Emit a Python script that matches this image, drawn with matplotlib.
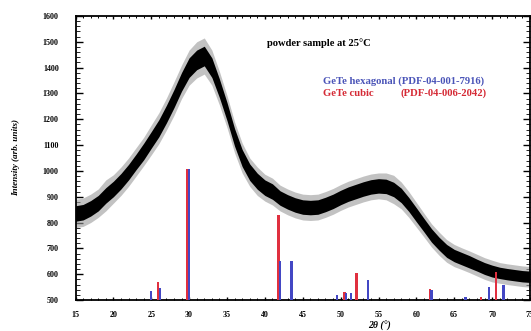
import matplotlib
matplotlib.use("Agg")
import matplotlib.pyplot as plt
from matplotlib.ticker import MultipleLocator

# ---- data ----
two_theta = [15, 16, 17, 18, 19, 20, 21, 22, 23, 24, 25, 26, 27, 28, 29, 30,
             31, 32, 33, 34, 35, 36, 37, 38, 39, 40, 41, 42, 43, 44, 45, 46,
             47, 48, 49, 50, 51, 52, 53, 54, 55, 56, 57, 58, 59, 60, 61, 62,
             63, 64, 65, 66, 67, 68, 69, 70, 71, 72, 73, 74, 75]
intensity = [835, 840, 855, 875, 905, 930, 960, 995, 1035, 1075, 1120, 1165,
             1220, 1280, 1345, 1400, 1430, 1445, 1400, 1320, 1230, 1130, 1050,
             995, 960, 935, 920, 895, 880, 868, 860, 858, 860, 870, 882, 897,
             910, 920, 930, 938, 942, 940, 928, 905, 870, 830, 790, 750, 718,
             690, 672, 660, 648, 635, 622, 612, 605, 600, 596, 592, 590]
noise_core = [30, 30, 30, 30, 30, 30, 30, 30, 30, 32, 32, 33, 34, 35, 36, 38,
              38, 38, 38, 36, 35, 34, 33, 32, 31, 30, 30, 28, 28, 28, 28, 28,
              28, 28, 28, 28, 28, 28, 28, 28, 28, 28, 28, 28, 27, 27, 26, 26,
              25, 25, 24, 24, 24, 23, 23, 23, 22, 22, 22, 22, 22]
noise_spike = [55, 55, 55, 55, 60, 55, 55, 55, 55, 55, 58, 60, 62, 65, 65, 68,
               70, 70, 68, 65, 62, 60, 58, 55, 55, 52, 52, 50, 50, 50, 50, 50,
               50, 50, 50, 50, 50, 50, 50, 50, 50, 52, 55, 52, 50, 48, 46, 45,
               45, 44, 43, 42, 42, 42, 42, 42, 40, 40, 40, 40, 40]

hex_pos = [25.0, 26.2, 30.0, 42.0, 43.5, 49.5, 50.7, 51.4, 53.6, 62.0, 66.5, 69.6, 71.5]
hex_int = [536, 548, 1007, 651, 651, 519, 528, 526, 577, 539, 510, 549, 558]
cub_pos = [25.9, 29.8, 41.8, 50.5, 52.1, 61.8, 68.5, 70.5]
cub_int = [571, 1007, 829, 532, 606, 543, 510, 610]

x_ticks = [15, 20, 25, 30, 35, 40, 45, 50, 55, 60, 65, 70, 75]
y_ticks = [500, 600, 700, 800, 900, 1000, 1100, 1200, 1300, 1400, 1500, 1600]

title_text = "powder sample at 25°C"
hex_label = "GeTe hexagonal (PDF-04-001-7916)"
cub_label = "GeTe cubic"
cub_pdf = "(PDF-04-006-2042)"
ylabel_text = "Intensity (arb. units)"
xlabel_text = "2θ (°)"

BLUE = "#4347c4"
RED = "#e0303f"
TBLUE = "#4a54b8"
TRED = "#d52a35"

plt.rcParams['font.family'] = ['Liberation Serif', 'DejaVu Serif']
plt.rcParams['font.weight'] = 'bold'

fig = plt.figure(figsize=(5.31, 3.31), dpi=100)
ax = fig.add_axes([75.5 / 531, 1 - 300 / 331, (530 - 75.5) / 531, (300 - 16) / 331])

lo_s = [m - s for m, s in zip(intensity, noise_spike)]
hi_s = [m + s for m, s in zip(intensity, noise_spike)]
lo_c = [m - s for m, s in zip(intensity, noise_core)]
hi_c = [m + s for m, s in zip(intensity, noise_core)]
ax.fill_between(two_theta, lo_s, hi_s, color="#9a9a9a", lw=0, alpha=0.6, zorder=2)
ax.fill_between(two_theta, lo_c, hi_c, color="black", lw=0, zorder=3)

base = 500
ax.bar(cub_pos, [v - base for v in cub_int], bottom=base, width=0.3,
       color=RED, zorder=4, align='center')
ax.bar(hex_pos, [v - base for v in hex_int], bottom=base, width=0.3,
       color=BLUE, zorder=4, align='center')

ax.set_xlim(15, 75)
ax.set_ylim(500, 1600)
ax.set_xticks(x_ticks)
ax.set_yticks(y_ticks)
ax.xaxis.set_minor_locator(MultipleLocator(1))
ax.yaxis.set_minor_locator(MultipleLocator(20))
ax.tick_params(axis='x', which='major', direction='in', length=2.5, width=1.0,
               top=True, bottom=True, labelsize=5.8, pad=8)
ax.tick_params(axis='x', which='minor', direction='in', length=1.2, width=0.7,
               top=True, bottom=True)
ax.tick_params(axis='y', which='major', direction='in', length=5, width=1.0,
               left=True, right=True, labelsize=5.8, pad=12)
ax.tick_params(axis='y', which='minor', direction='in', length=2.8, width=0.6,
               left=True, right=True)
for lab in ax.get_xticklabels() + ax.get_yticklabels():
    lab.set_fontweight('bold')
for sp in ax.spines.values():
    sp.set_linewidth(1.3)

fig.text(16 / 531, 1 - 158 / 331, ylabel_text, rotation=90, ha='center', va='center',
         fontsize=6.6, fontstyle='italic', fontweight='bold')
fig.text(380 / 531, 1 - 326 / 331, xlabel_text, ha='center', va='center',
         fontsize=7, fontstyle='italic', fontweight='bold')
fig.text(267 / 531, 1 - 43 / 331, title_text, ha='left', va='center',
         fontsize=7.6, fontweight='bold', color='black')
fig.text(323 / 531, 1 - 81 / 331, hex_label, ha='left', va='center',
         fontsize=7.7, fontweight='bold', color=TBLUE)
fig.text(323 / 531, 1 - 93 / 331, cub_label, ha='left', va='center',
         fontsize=7.7, fontweight='bold', color=TRED)
fig.text(487 / 531, 1 - 93 / 331, cub_pdf, ha='right', va='center',
         fontsize=7.7, fontweight='bold', color=TRED)

fig.savefig("out.png", dpi=100)
